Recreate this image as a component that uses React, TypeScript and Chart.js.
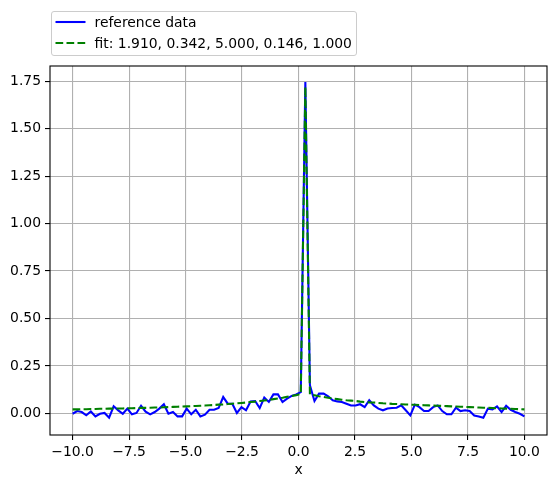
import React, { useEffect, useRef } from "react";
import { Chart, registerables } from "chart.js";

Chart.register(...registerables);

const N = 100;
const X_MIN = -10;
const X_MAX = 10;
const xValues: number[] = Array.from({ length: N }, (_, i) => X_MIN + ((X_MAX - X_MIN) * i) / (N - 1));

const referenceY: number[] = [
  -0.002, 0.012, 0.007, -0.010, 0.010, -0.016, -0.002, 0.002, -0.023, 0.037,
  0.016, -0.002, 0.025, -0.005, 0.002, 0.040, 0.009, -0.005, 0.007, 0.025,
  0.048, -0.002, 0.007, -0.016, -0.016, 0.025, -0.005, 0.019, -0.016, -0.007,
  0.019, 0.019, 0.028, 0.086, 0.051, 0.051, 0.002, 0.033, 0.016, 0.063,
  0.065, 0.028, 0.083, 0.060, 0.100, 0.100, 0.060, 0.078, 0.092, 0.100,
  0.112, 1.745,
  0.148, 0.065, 0.104, 0.104, 0.090, 0.069, 0.063, 0.060, 0.051, 0.041,
  0.041, 0.048, 0.033, 0.069, 0.042, 0.025, 0.016, 0.026, 0.028, 0.030,
  0.042, 0.016, -0.011, 0.046, 0.033, 0.012, 0.012, 0.033, 0.042, 0.012,
  -0.005, -0.005, 0.030, 0.012, 0.016, 0.012, -0.011, -0.016, -0.023, 0.025,
  0.021, 0.037, 0.007, 0.040, 0.019, 0.007, -0.002, -0.016,
];

const fitY: number[] = [
  0.021, 0.021, 0.022, 0.022, 0.023, 0.023, 0.024, 0.024, 0.025, 0.025,
  0.026, 0.026, 0.027, 0.027, 0.028, 0.029, 0.029, 0.030, 0.031, 0.031,
  0.032, 0.033, 0.034, 0.035, 0.036, 0.037, 0.038, 0.039, 0.040, 0.041,
  0.043, 0.044, 0.046, 0.047, 0.049, 0.051, 0.053, 0.055, 0.057, 0.060,
  0.062, 0.065, 0.068, 0.071, 0.075, 0.078, 0.082, 0.087, 0.091, 0.096,
  0.102, 1.720,
  0.100, 0.095, 0.090, 0.086, 0.082, 0.078, 0.075, 0.072, 0.069, 0.067,
  0.065, 0.062, 0.060, 0.058, 0.057, 0.055, 0.053, 0.052, 0.050, 0.049,
  0.048, 0.047, 0.046, 0.045, 0.044, 0.043, 0.042, 0.041, 0.040, 0.039,
  0.038, 0.037, 0.036, 0.035, 0.034, 0.033, 0.032, 0.031, 0.030, 0.029,
  0.028, 0.027, 0.026, 0.025, 0.024, 0.023, 0.022, 0.021,
];

const seriesLabels = ["reference data", "fit: 1.910, 0.342, 5.000, 0.146, 1.000"];
const xAxisTitle = "x";

const FONT = "'DejaVu Sans', sans-serif";
const FONT_SIZE = 13.9;

const fmt = (v: number, d: number) => {
  const s = Number(v).toFixed(d);
  return s.startsWith("-") ? "\u2212" + s.slice(1) : s;
};

export default function App() {
  const ref = useRef<HTMLCanvasElement>(null);

  useEffect(() => {
    const frame = {
      id: "frame",
      afterDraw(chart: any) {
        const { ctx, chartArea } = chart;
        const { left, top, right, bottom } = chartArea;
        ctx.save();
        ctx.strokeStyle = "#000";
        ctx.lineWidth = 1.1;
        ctx.strokeRect(left, top, right - left, bottom - top);
        ctx.restore();
      },
    };

    const chart = new Chart(ref.current as HTMLCanvasElement, {
      type: "line",
      data: {
        datasets: [
          {
            label: seriesLabels[1],
            data: xValues.map((x, i) => ({ x, y: fitY[i] })),
            borderColor: "#008000",
            backgroundColor: "#008000",
            borderWidth: 2.08,
            borderDash: [7.7, 3.3],
            pointRadius: 0,
            tension: 0,
            order: 0,
          },
          {
            label: seriesLabels[0],
            data: xValues.map((x, i) => ({ x, y: referenceY[i] })),
            borderColor: "#0000ff",
            backgroundColor: "#0000ff",
            borderWidth: 2.08,
            pointRadius: 0,
            tension: 0,
            order: 1,
          },
        ],
      },
      options: {
        animation: false,
        responsive: false,
        events: [],
        layout: { padding: { top: 66, right: 9, left: 0, bottom: 0 } },
        plugins: { legend: { display: false }, tooltip: { enabled: false } },
        scales: {
          x: {
            type: "linear",
            min: -11,
            max: 11,
            ticks: {
              stepSize: 2.5,
              includeBounds: false,
              autoSkip: false,
              maxRotation: 0,
              padding: 4,
              color: "#000",
              font: { family: FONT, size: FONT_SIZE },
              callback: (v: any) => fmt(v, 1),
            },
            grid: { color: "#b0b0b0", lineWidth: 1.1, tickColor: "#000", tickLength: 5 },
            border: { display: false },
            title: {
              display: true,
              text: xAxisTitle,
              color: "#000",
              font: { family: FONT, size: FONT_SIZE },
              padding: { top: 0, bottom: 9 },
            },
            afterFit: (s: any) => {
              s.height = 53;
            },
          },
          y: {
            type: "linear",
            min: -0.114,
            max: 1.83,
            ticks: {
              stepSize: 0.25,
              includeBounds: false,
              autoSkip: false,
              padding: 4,
              color: "#000",
              font: { family: FONT, size: FONT_SIZE },
              callback: (v: any) => fmt(v, 2),
            },
            grid: { color: "#b0b0b0", lineWidth: 1.1, tickColor: "#000", tickLength: 5 },
            border: { display: false },
            afterFit: (s: any) => {
              s.width = 50;
            },
          },
        },
      } as any,
      plugins: [frame],
    });
    return () => chart.destroy();
  }, []);

  const row = (top: number, label: string, dashed: boolean, color: string) => (
    <div
      style={{
        position: "absolute",
        left: 0,
        top,
        height: 20,
        display: "flex",
        alignItems: "center",
        whiteSpace: "nowrap",
      }}
    >
      <svg width={40} height={20} style={{ display: "block" }}>
        <line
          x1={3.5}
          y1={10}
          x2={33.5}
          y2={10}
          stroke={color}
          strokeWidth={2.08}
          strokeDasharray={dashed ? "7.7 3.3" : undefined}
        />
      </svg>
      <span style={{ marginLeft: 3, lineHeight: "20px" }}>{label}</span>
    </div>
  );

  return (
    <div style={{ position: "fixed", left: 0, top: 0, width: 556, height: 488, background: "#fff" }}>
      <canvas ref={ref} width={556} height={488} style={{ display: "block", width: 556, height: 488 }} />
      <div
        style={{
          position: "absolute",
          left: 50.5,
          top: 10.5,
          width: 304,
          height: 43,
          border: "1px solid #cccccc",
          borderRadius: 3,
          background: "rgba(255,255,255,0.8)",
          fontFamily: FONT,
          fontSize: FONT_SIZE,
          color: "#000",
        }}
      >
        {row(0.5, seriesLabels[0], false, "#0000ff")}
        {row(21.2, seriesLabels[1], true, "#008000")}
      </div>
    </div>
  );
}
